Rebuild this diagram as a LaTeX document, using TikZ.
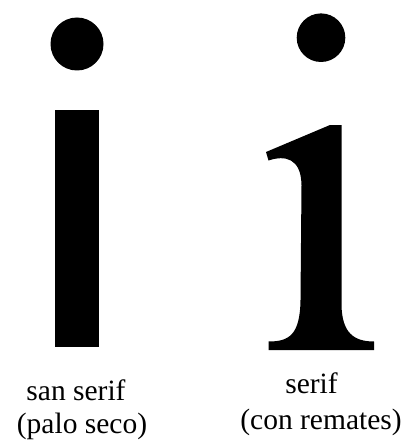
\documentclass[tikz,border=0pt]{standalone}
\usepackage{fontspec}
\setmainfont{Liberation Serif}
\usetikzlibrary{positioning}

\begin{document}
\begin{tikzpicture}[
    x=1pt, y=-1pt,
    every node/.style={font=\fontsize{29.5}{34}\selectfont, inner sep=0pt},
    glyph/.style={fill=black, draw=none},
    caption/.style={anchor=base},
]
\useasboundingbox (0,0) rectangle (406,441);

% ---- Left: sans serif i ----
\fill[glyph] (77,44) circle (26.5);
\fill[glyph] (55,110) rectangle (98.7,346.7);

% ---- Right: serif i ----
\fill[glyph] (321,37.7) circle (24.3);
\fill[glyph] (341.5,125) -- (341.5,305)
    .. controls (342,333) and (354,341.5) .. (374,341.5)
    -- (374,350) -- (268.5,350) -- (268.5,341.5)
    .. controls (289,341.5) and (300,335) .. (300.5,300)
    -- (301.5,185)
    .. controls (301,158) and (285,155) .. (268.5,160.5)
    -- (266,152) -- (330,125) -- cycle;

% ---- Labels ----
\node[caption] (sanA) at (76,400) {san serif};
\node[caption] (sanB) at (82,433) {(palo seco)};
\node[caption] (serA) at (311.5,393) {serif};
\node[caption] (serB) at (321,429) {(con remates)};

\end{tikzpicture}
\end{document}
